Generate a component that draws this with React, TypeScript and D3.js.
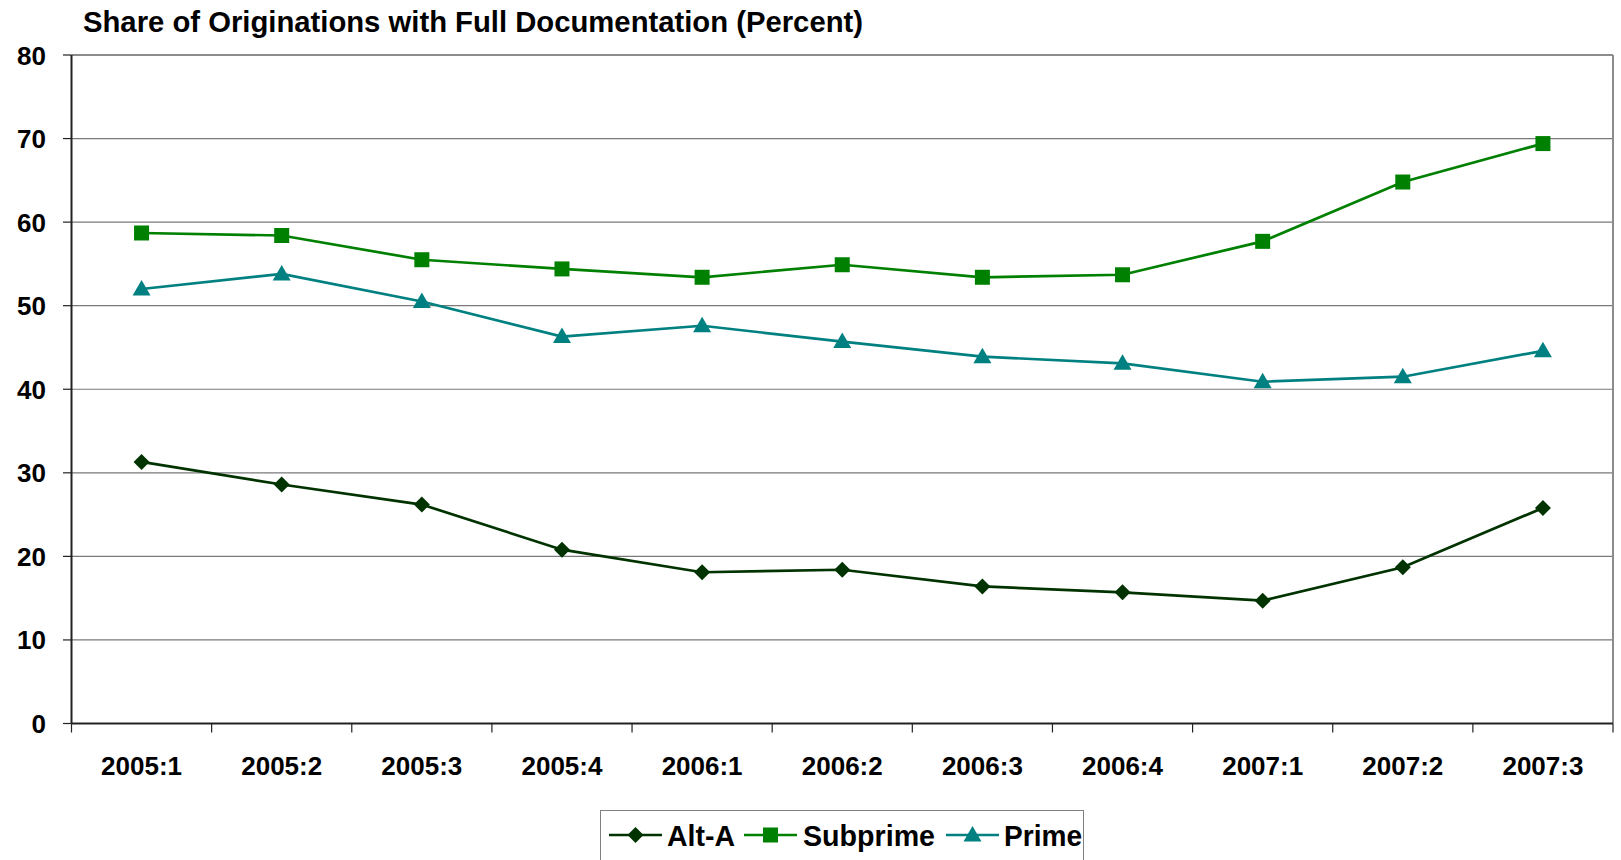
import * as d3 from "d3";

const W = 1621;
const H = 860;

const quarters = [
  "2005:1", "2005:2", "2005:3", "2005:4",
  "2006:1", "2006:2", "2006:3", "2006:4",
  "2007:1", "2007:2", "2007:3",
];

const altA = [31.3, 28.6, 26.2, 20.8, 18.1, 18.4, 16.4, 15.7, 14.7, 18.7, 25.8];
const subprime = [58.7, 58.4, 55.5, 54.4, 53.4, 54.9, 53.4, 53.7, 57.7, 64.8, 69.4];
const prime = [52.0, 53.8, 50.5, 46.3, 47.6, 45.7, 43.9, 43.1, 40.9, 41.5, 44.6];

const yTicks = [0, 10, 20, 30, 40, 50, 60, 70, 80];

const seriesList = [
  { name: "Alt-A", values: altA, color: "#003300", marker: "diamond" },
  { name: "Subprime", values: subprime, color: "#008000", marker: "square" },
  { name: "Prime", values: prime, color: "#008080", marker: "triangle" },
];

const FONT = "'Liberation Sans', Arial, sans-serif";

// plot area
const left = 71.5;
const right = 1613;
const top = 55;
const bottom = 723.5;

function Marker({ kind, x, y, color }: { kind: string; x: number; y: number; color: string }) {
  if (kind === "square") {
    return <rect x={x - 7.5} y={y - 7.5} width={15} height={15} fill={color} />;
  }
  if (kind === "triangle") {
    return <path d={`M${x},${y - 9}L${x + 9},${y + 6.5}L${x - 9},${y + 6.5}Z`} fill={color} />;
  }
  return <path d={`M${x},${y - 8}L${x + 8},${y}L${x},${y + 8}L${x - 8},${y}Z`} fill={color} />;
}

export default function App() {
  const xScale = d3.scaleBand().domain(quarters).range([left, right]);
  const yScale = d3.scaleLinear().domain([0, 80]).range([bottom, top]);
  const cx = (q: string) => (xScale(q) ?? 0) + xScale.bandwidth() / 2;

  const line = d3
    .line<number>()
    .x((_, i) => cx(quarters[i]))
    .y((d) => yScale(d));

  const boundaries = quarters.map((q) => xScale(q) ?? 0).concat([right]);

  // legend layout
  const legend = [
    { x: 609, textX: 667, textLen: 68 },
    { x: 744, textX: 803, textLen: 132 },
    { x: 946, textX: 1004, textLen: 78 },
  ];
  const legendY = 835;

  return (
    <svg
      width={W}
      height={H}
      style={{ position: "absolute", left: 0, top: 0, background: "#fff" }}
      fontFamily={FONT}
    >
      <text x={83} y={32} fontSize={29} fontWeight="bold" textLength={780} lengthAdjust="spacingAndGlyphs">
        Share of Originations with Full Documentation (Percent)
      </text>

      {/* gridlines */}
      {yTicks.slice(1, -1).map((t) => (
        <line key={t} x1={left} x2={right} y1={yScale(t)} y2={yScale(t)} stroke="#7a7a7a" strokeWidth={1.2} />
      ))}

      {/* plot border top / right */}
      <line x1={left} x2={right} y1={top} y2={top} stroke="#8c8c8c" strokeWidth={2} />
      <line x1={right} x2={right} y1={top} y2={bottom} stroke="#8c8c8c" strokeWidth={2} />

      {/* y axis */}
      <line x1={left} x2={left} y1={top} y2={bottom} stroke="#222" strokeWidth={2} />
      {yTicks.map((t) => (
        <g key={t}>
          <line x1={63} x2={left} y1={yScale(t)} y2={yScale(t)} stroke="#222" strokeWidth={1.2} />
          <text x={46} y={yScale(t) + 9.5} textAnchor="end" fontSize={26} fontWeight="bold">
            {t}
          </text>
        </g>
      ))}

      {/* x axis */}
      <line x1={left} x2={right} y1={bottom} y2={bottom} stroke="#222" strokeWidth={2} />
      {boundaries.map((b, i) => (
        <line key={i} x1={b} x2={b} y1={bottom} y2={bottom + 9} stroke="#222" strokeWidth={1.2} />
      ))}
      {quarters.map((q) => (
        <text key={q} x={cx(q)} y={775} textAnchor="middle" fontSize={26} fontWeight="bold">
          {q}
        </text>
      ))}

      {/* series */}
      {seriesList.map((s) => (
        <g key={s.name}>
          <path d={line(s.values) ?? ""} fill="none" stroke={s.color} strokeWidth={2.7} />
          {s.values.map((v, i) => (
            <Marker key={i} kind={s.marker} x={cx(quarters[i])} y={yScale(v)} color={s.color} />
          ))}
        </g>
      ))}

      {/* legend */}
      <rect x={600.5} y={810.5} width={483} height={60} fill="#fff" stroke="#808080" strokeWidth={1} />
      {seriesList.map((s, i) => (
        <g key={s.name}>
          <line x1={legend[i].x} x2={legend[i].x + 53} y1={legendY} y2={legendY} stroke={s.color} strokeWidth={2.7} />
          <Marker kind={s.marker} x={legend[i].x + 26.5} y={legendY} color={s.color} />
          <text
            x={legend[i].textX}
            y={legendY + 10.5}
            fontSize={29}
            fontWeight="bold"
            textLength={legend[i].textLen}
            lengthAdjust="spacingAndGlyphs"
          >
            {s.name}
          </text>
        </g>
      ))}
    </svg>
  );
}
